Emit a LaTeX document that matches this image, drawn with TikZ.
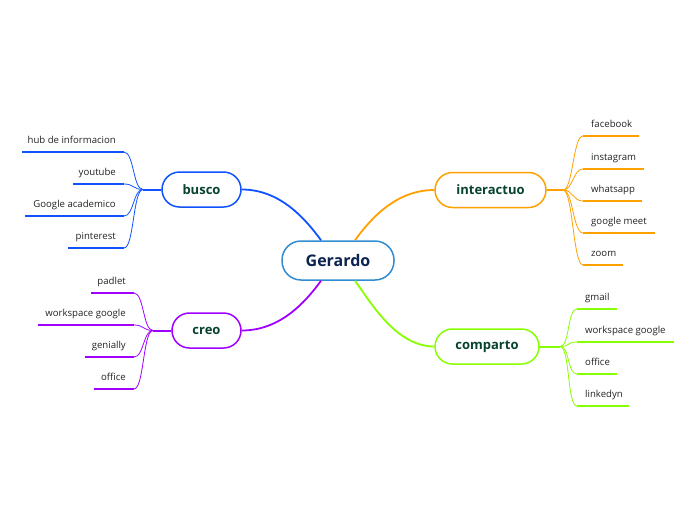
\documentclass[tikz,border=0pt]{standalone}
\usepackage{fontspec}
\setmainfont{Open Sans}
\definecolor{cb}{RGB}{16,82,255}
\definecolor{co}{RGB}{255,160,0}
\definecolor{cp}{RGB}{160,0,255}
\definecolor{cg}{RGB}{136,255,0}
\definecolor{gborder}{RGB}{50,140,210}
\definecolor{gtext}{RGB}{12,36,80}
\definecolor{btext}{RGB}{8,66,48}
\definecolor{ltext}{RGB}{34,34,34}
\tikzset{
  mainnode/.style={draw=gborder, line width=1.5pt, fill=white, rounded corners=19pt,
    minimum width=112pt, minimum height=39pt, inner sep=0pt,
    font=\fontsize{16}{18}\selectfont\bfseries, text=gtext},
  branchnode/.style={draw=#1, line width=1.5pt, fill=white, rounded corners=17.5pt,
    minimum height=35pt, inner sep=0pt,
    font=\fontsize{13}{15}\selectfont\bfseries, text=btext},
  leafL/.style={anchor=base east, inner sep=0pt, font=\fontsize{9.6}{11}\selectfont, text=ltext},
  leafR/.style={anchor=base west, inner sep=0pt, font=\fontsize{9.6}{11}\selectfont, text=ltext},
  bigline/.style={draw=#1, line width=1.8pt},
  stub/.style={draw=#1, line width=2pt},
  twig/.style={draw=#1, line width=0.8pt},
  uline/.style={draw=#1, line width=2.6pt},
}
\begin{document}
\begin{tikzpicture}[x=1pt,y=-1pt]
\useasboundingbox (0,0) rectangle (696,520);

% central and branch nodes
\node[mainnode] (g) at (338,260.5) {Gerardo};
\node[branchnode=cb, minimum width=79pt] (busco) at (201.5,189.5) {busco};
\node[branchnode=cp, minimum width=69pt] (creo) at (206.5,330.5) {creo};
\node[branchnode=co, minimum width=111pt] (inter) at (490.5,190) {interactuo};
\node[branchnode=cg, minimum width=104pt] (comp) at (487,346.5) {comparto};

% main connectors
\draw[bigline=cb] (busco.east) .. controls +(38,0) and +(-16,-22) .. (g.130);
\draw[bigline=co] (inter.west) .. controls +(-38,0) and +(16,-22) .. (g.50);
\draw[bigline=cp] (creo.east) .. controls +(38,0) and +(-16,22) .. (g.230);
\draw[bigline=cg] (comp.west) .. controls +(-38,0) and +(16,22) .. (g.310);

% ---- busco leaves
\coordinate (jb) at (143,189.5);
\draw[stub=cb] (busco.west) -- (jb);
\coordinate (b1) at (124,152);
\coordinate (b2) at (124,184);
\coordinate (b3) at (124,216);
\coordinate (b4) at (124,248);
\draw[uline=cb] (b1) -- ++(-102,0);
\draw[uline=cb] (b2) -- ++(-51,0);
\draw[uline=cb] (b3) -- ++(-99,0);
\draw[uline=cb] (b4) -- ++(-56,0);
\node[leafL] (tb1) at (116,143.5) {hub de informacion};
\node[leafL] (tb2) at (116,175.5) {youtube};
\node[leafL] (tb3) at (116,207.5) {Google academico};
\node[leafL] (tb4) at (116,239.5) {pinterest};
\foreach \c in {b1,b2,b3,b4}
  \draw[twig=cb] (jb) .. controls +(-10,0) and +(10,0) .. (\c);

% ---- creo leaves
\coordinate (jc) at (153,330.5);
\draw[stub=cp] (creo.west) -- (jc);
\coordinate (c1) at (134,293);
\coordinate (c2) at (134,325);
\coordinate (c3) at (134,357);
\coordinate (c4) at (134,389);
\draw[uline=cp] (c1) -- ++(-43,0);
\draw[uline=cp] (c2) -- ++(-96,0);
\draw[uline=cp] (c3) -- ++(-49,0);
\draw[uline=cp] (c4) -- ++(-40,0);
\node[leafL] (tc1) at (126,284.5) {padlet};
\node[leafL] (tc2) at (126,316.5) {workspace google};
\node[leafL] (tc3) at (126,348.5) {genially};
\node[leafL] (tc4) at (126,380.5) {office};
\foreach \c in {c1,c2,c3,c4}
  \draw[twig=cp] (jc) .. controls +(-10,0) and +(10,0) .. (\c);

% ---- interactuo leaves
\coordinate (ji) at (563,190);
\draw[stub=co] (inter.east) -- (ji);
\coordinate (i1) at (583,136);
\coordinate (i2) at (583,169);
\coordinate (i3) at (583,201);
\coordinate (i4) at (583,233);
\coordinate (i5) at (583,265);
\draw[uline=co] (i1) -- ++(56,0);
\draw[uline=co] (i2) -- ++(61,0);
\draw[uline=co] (i3) -- ++(59,0);
\draw[uline=co] (i4) -- ++(72,0);
\draw[uline=co] (i5) -- ++(40,0);
\node[leafR] (ti1) at (591,127.5) {facebook};
\node[leafR] (ti2) at (591,160.5) {instagram};
\node[leafR] (ti3) at (591,192.5) {whatsapp};
\node[leafR] (ti4) at (591,224.5) {google meet};
\node[leafR] (ti5) at (591,256.5) {zoom};
\foreach \c in {i1,i2,i3,i4,i5}
  \draw[twig=co] (ji) .. controls +(10,0) and +(-10,0) .. (\c);

% ---- comparto leaves
\coordinate (jp) at (560,346.5);
\draw[stub=cg] (comp.east) -- (jp);
\coordinate (p1) at (577,309);
\coordinate (p2) at (577,342);
\coordinate (p3) at (577,374);
\coordinate (p4) at (577,406);
\draw[uline=cg] (p1) -- ++(40,0);
\draw[uline=cg] (p2) -- ++(97,0);
\draw[uline=cg] (p3) -- ++(40,0);
\draw[uline=cg] (p4) -- ++(52,0);
\node[leafR] (tp1) at (585,300.5) {gmail};
\node[leafR] (tp2) at (585,333.5) {workspace google};
\node[leafR] (tp3) at (585,365.5) {office};
\node[leafR] (tp4) at (585,397.5) {linkedyn};
\foreach \c in {p1,p2,p3,p4}
  \draw[twig=cg] (jp) .. controls +(10,0) and +(-10,0) .. (\c);
\end{tikzpicture}
\end{document}
